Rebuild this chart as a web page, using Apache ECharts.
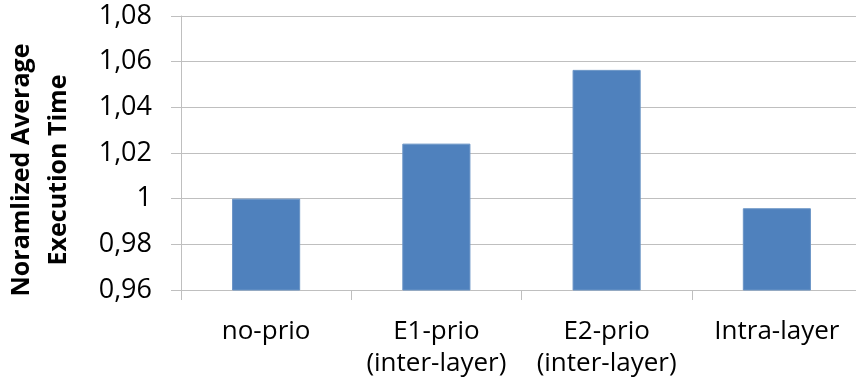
<!DOCTYPE html>
<html>
<head>
<meta charset="utf-8">
<script src="https://cdn.jsdelivr.net/npm/echarts@6/dist/echarts.min.js"></script>
<style>
html,body{margin:0;padding:0;background:#fff;}
#chart{width:856px;height:387px;}
</style>
</head>
<body>
<div id="chart"></div>
<script>
const categories = ['no-prio', 'E1-prio\n(inter-layer)', 'E2-prio\n(inter-layer)', 'Intra-layer'];
const values = [1.0, 1.0241, 1.0564, 0.9958];
const yMin = 0.96, yMax = 1.08, yStep = 0.02;
const yTitle = 'Noramlized Average\nExecution Time';

const chart = echarts.init(document.getElementById('chart'));
const gridColor = '#BFBFBF';
chart.setOption({
  animation: false,
  grid: { left: 181, width: 681, top: 16, bottom: 97, containLabel: false, outerBoundsMode: 'none' },
  xAxis: {
    type: 'category',
    data: categories,
    boundaryGap: true,
    axisLine: { lineStyle: { color: gridColor, width: 1 } },
    axisTick: { show: true, length: 10, lineStyle: { color: gridColor } },
    axisLabel: {
      color: '#000', fontFamily: 'Open Sans', fontSize: 26, lineHeight: 32,
      margin: 26, interval: 0
    }
  },
  yAxis: {
    type: 'value',
    min: yMin, max: yMax, interval: yStep,
    axisLine: { show: true, lineStyle: { color: gridColor, width: 1 } },
    axisTick: { show: true, length: 10, lineStyle: { color: gridColor } },
    splitLine: { show: true, lineStyle: { color: gridColor, width: 1 } },
    axisLabel: {
      color: '#000', fontFamily: 'Open Sans', fontSize: 27, margin: 29,
      formatter: v => String(+v.toFixed(2)).replace('.', ',')
    }
  },
  graphic: [{
    type: 'text',
    x: 40, y: 170,
    rotation: Math.PI / 2,
    style: {
      text: yTitle,
      font: 'bold 25px "Open Sans"',
      fill: '#000',
      align: 'center',
      verticalAlign: 'middle',
      lineHeight: 37
    }
  }],
  series: [{
    type: 'bar',
    data: values,
    barWidth: '40%',
    itemStyle: { color: '#4F81BD', borderColor: '#6a94c6', borderWidth: 1 }
  }]
});
</script>
</body>
</html>
